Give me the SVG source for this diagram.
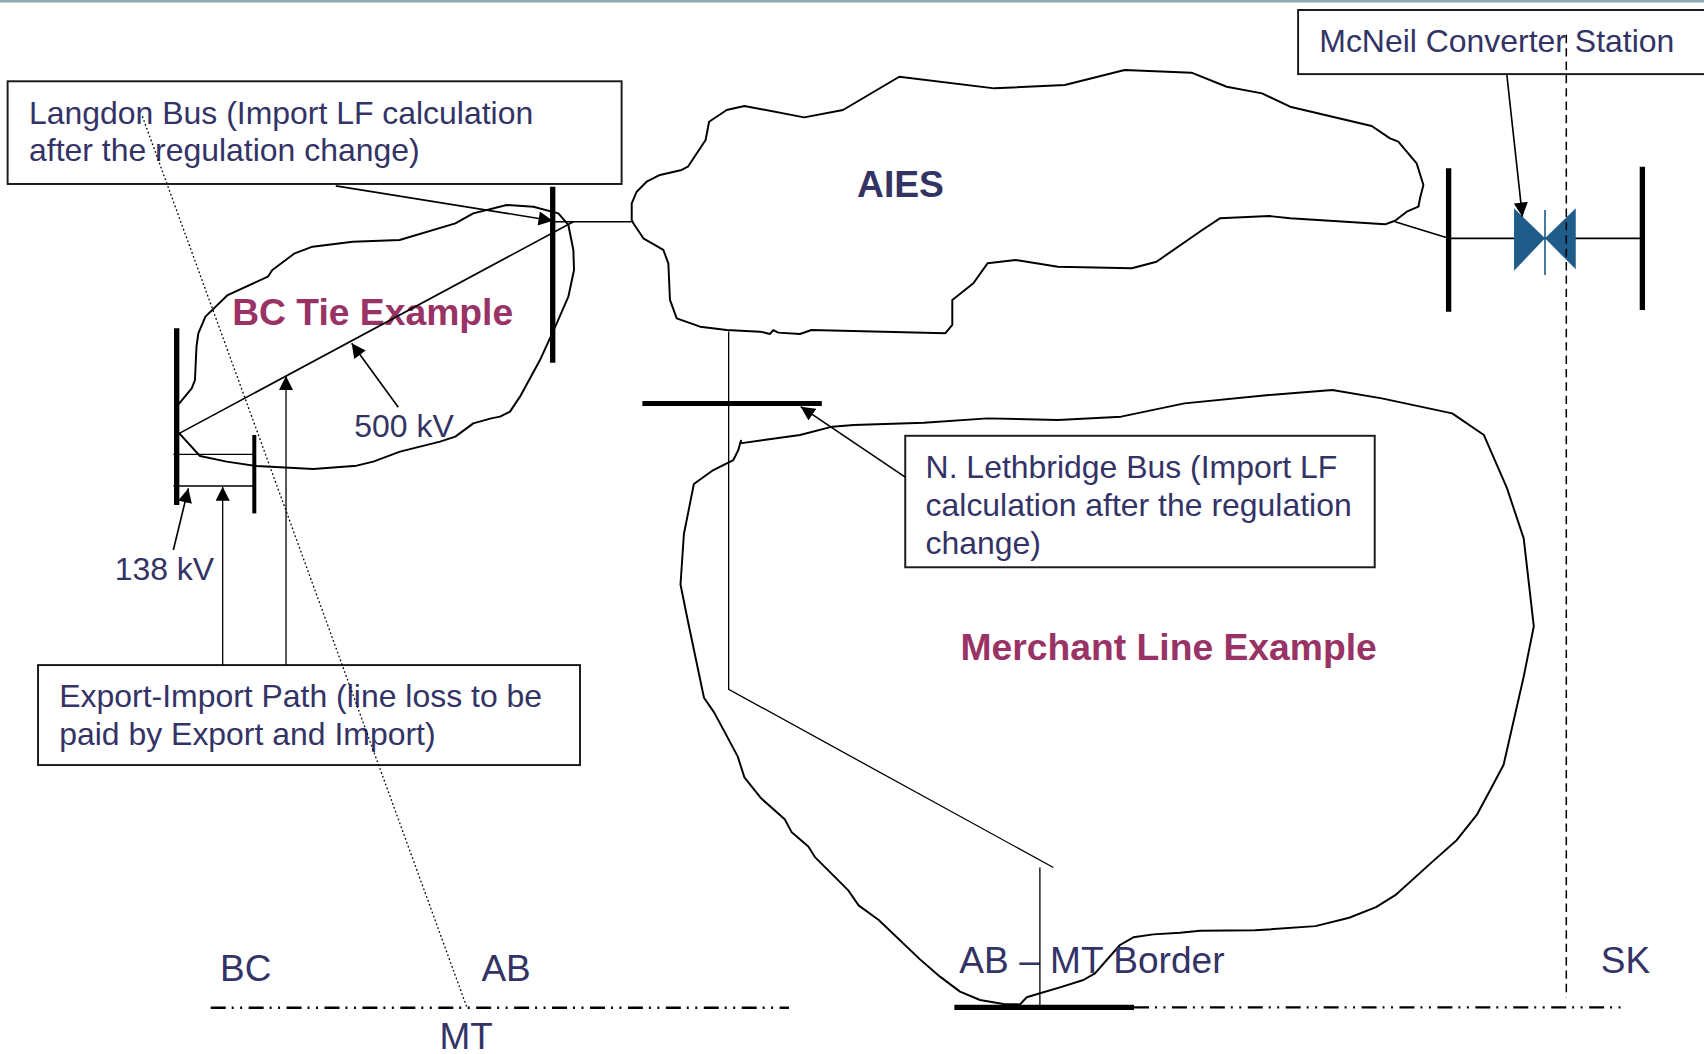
<svg xmlns="http://www.w3.org/2000/svg" width="1704" height="1054" viewBox="0 0 1704 1054">
<style>
.t{font-family:"Liberation Sans",Arial,sans-serif;font-size:29.4px;fill:#333366}
.b{font-family:"Liberation Sans",Arial,sans-serif;font-size:34.3px;font-weight:bold;fill:#993366}
.bn{font-family:"Liberation Sans",Arial,sans-serif;font-size:34.3px;font-weight:bold;fill:#333366}
.lg{font-family:"Liberation Sans",Arial,sans-serif;font-size:34px;fill:#333366}
.box{fill:#fff;stroke:#1a1a1a;stroke-width:1.8}
.cloud{fill:none;stroke:#000;stroke-width:1.8;stroke-linejoin:round;stroke-linecap:round}
.ln{fill:none;stroke:#000;stroke-width:1.5}
.thin{fill:none;stroke:#000;stroke-width:1.2}
.bus{stroke:#000;stroke-width:4.9}
.arr{fill:none;stroke:#000;stroke-width:1.5;marker-end:url(#ah)}
.dot{fill:none;stroke:#000;stroke-width:1.2;stroke-dasharray:1.6 2.2}
.dash{fill:none;stroke:#000;stroke-width:1.4;stroke-dasharray:7.7 4.6}
.border{fill:none;stroke:#000;stroke-width:2.2;stroke-dasharray:13.8 5.5 1.8 6 1.8 6}
.valve{fill:#1f5c8a}
</style>
<defs>
<marker id="ah" viewBox="0 0 14 14" refX="14" refY="7" markerWidth="13.5" markerHeight="13" orient="auto" markerUnits="userSpaceOnUse">
<path d="M0,0 L14,7 L0,14 z" fill="#000"/>
</marker>
</defs>
<rect x="0" y="0" width="1704" height="2.5" fill="#8eaab3"/>
<g transform="scale(1.08673)">
<g id="bc-tie">
<path class="cloud" d="M165,398.8 L184,419.6 L208.6,424.8 L236.2,428.8 L288.3,431.6 L328.2,428.5 L343.5,424.8 L368.1,415.6 L404.9,406.4 L419,401.8 L435.5,389.6 L452,385 L460.1,383.4 L469.3,378.8 L478.5,365 L496.9,331.3 L512.3,297.5 L523,273 L528.2,248.5 L527.6,230 L523,207 L513.8,196.3 L490.8,190.2 L466.3,188.6 L435.5,196.3 L419,205.5 L367.7,220.9 L324.6,222.4 L287.6,227 L271.2,233.1 L250.6,248.5 L246.5,254.6 L209.5,271.5 L189,291.4 L182.5,306.7 L180.8,319 L179.4,349.7 L176.4,357.3 L165,371.2 L162.3,374"/>
<text class="b" x="213.6" y="299">BC Tie Example</text>
<line class="bus" x1="508.6" y1="171.8" x2="508.6" y2="333.7"/>
<line class="bus" x1="162.6" y1="302.1" x2="162.6" y2="464.7"/>
<line class="bus" x1="234" y1="400.3" x2="234" y2="472.4" style="stroke-width:3.7"/>
<text class="t" x="326" y="401.8">500 kV</text>
<text class="t" x="105.5" y="533.5">138 kV</text>
</g>
<g id="aies">
<path class="cloud" d="M581.3,202.4 L581.3,187.1 L585.9,176.4 L595,167.2 L607.3,161 L627.3,156.4 L633,153.4 L649.3,128.8 L652.5,112 L668.7,101.2 L685,97.5 L740,108 L775.7,101.2 L827.5,70.6 L915,81.3 L979.8,78.2 L1034.9,64.4 L1096.4,66.9 L1128.8,79.8 L1161.3,85.9 L1187.1,98.2 L1262.2,115.9 L1279.1,127.3 L1286.7,130.4 L1303.6,150.3 L1309.8,170.2 L1306.7,182.5 L1305.2,190.2 L1294.5,194.8 L1283.7,203.1 L1274.5,206.4 L1187.1,200.9 L1167.9,198.8 L1122.5,200.9 L1106.3,211.7 L1064.2,240.8 L1041.5,246.9 L973.4,245.4 L934.6,239.3 L908.7,242.3 L895.7,260.7 L876.3,276 L876.3,299 L869.8,306.7 L746.7,303.7 L736.2,307.3 L716.2,306.1 L711.6,303.7 L708.6,307.3 L699.4,305.2 L668.7,303.7 L644.2,300.6 L622.7,292.9 L616.5,276 L615,242.3 L610.4,230 L592,219.3 L582.8,205.5 Z"/>
<text class="bn" x="788.6" y="181">AIES</text>
</g>
<g id="merchant-line">
<path class="cloud" d="M681.9,405.5 L681,408 L736.2,400.3 L765.8,392.6 L785.5,391.1 L850.2,389 L908.6,385 L973.4,386.5 L1031.6,383.4 L1089.9,371.2 L1167.7,363.5 L1226,358.9 L1271.5,366.6 L1336.3,380.4 L1365.5,400.3 L1386.7,449.2 L1402.1,495.4 L1411.4,576.3 L1402.1,622.6 L1383.6,703.7 L1371.3,726.9 L1358.9,749.9 L1340.4,773.1 L1318.7,792.4 L1284.7,823.2 L1266.2,834.8 L1241.5,844.5 L1210.5,852.2 L1154.9,856.1 L1104.3,856.4 L1085.9,858.3 L1061.3,859.8 L1042.9,862.5 L1030.6,869.6 L1018.4,883.4 L1007.6,895.7 L996.9,901.8 L975.4,908.6 L957,914 L944.8,917.7 L938.6,924.2 L923.3,923.9 L901.8,920.2 L883.4,912.5 L865,898.7 L846.6,882.8 L808.6,846.6 L790.1,833.1 L780.8,819.6 L765.4,804.1 L749.9,788.7 L743.8,779 L728.3,765.5 L722.1,753.9 L700.4,734.6 L685,715.3 L678.8,696 L666.4,672.8 L657.1,655.5 L647.8,642 L632.4,568.7 L626.2,537.9 L629.3,491.6 L638.5,445.3 L656.4,432.5 L674.8,423.3 L679.4,414.1 L681,408"/>
<text class="b" x="883.9" y="607.3">Merchant Line Example</text>
<line class="bus" x1="591.1" y1="371.2" x2="756.2" y2="371.2" style="stroke-width:4.6"/>
<line class="bus" x1="878.2" y1="927" x2="1043.5" y2="927"/>
</g>
<g id="mcneil">
<line class="bus" x1="1333" y1="154.9" x2="1333" y2="286.8"/>
<line class="bus" x1="1511.3" y1="153.4" x2="1511.3" y2="285.3"/>
<line class="ln" x1="1333" y1="219.3" x2="1511.3" y2="219.3"/>
<polygon class="valve" points="1393.2,191.7 1421.7,219.3 1393.2,249.1"/>
<polygon class="valve" points="1450,191.7 1421.7,219.3 1450,247.8"/>
<line x1="1421.7" y1="193.2" x2="1421.7" y2="253" stroke="#1f5c8a" stroke-width="1.5"/>
</g>
<g id="langdon-label">
<rect class="box" x="7" y="74.8" width="565" height="94.5"/>
<text class="t" x="26.7" y="114.4">Langdon Bus (Import LF calculation</text>
<text class="t" x="26.7" y="148.5">after the regulation change)</text>
</g>
<g id="mcneil-label">
<rect class="box" x="1194.5" y="9.2" width="390" height="59"/>
<text class="t" x="1214" y="47.5">McNeil Converter Station</text>
</g>
<g id="lethbridge-label">
<rect class="box" x="833" y="401" width="432" height="121"/>
<text class="t" x="851.7" y="439.5">N. Lethbridge Bus (Import LF</text>
<text class="t" x="851.7" y="474.5">calculation after the regulation</text>
<text class="t" x="851.7" y="509.5">change)</text>
</g>
<g id="export-import-label">
<rect class="box" x="35" y="612" width="498.7" height="92"/>
<text class="t" x="54.5" y="651">Export-Import Path (line loss to be</text>
<text class="t" x="54.5" y="686">paid by Export and Import)</text>
</g>
<g id="borders">
<path class="border" d="M193.9,927.3 L726,927.3"/>
<path class="border" d="M1043.5,927 L1492,927"/>
<path class="dash" d="M1441.3,32 L1441.3,918"/>
<text class="lg" x="202.5" y="903">BC</text>
<text class="lg" x="443" y="903">AB</text>
<text class="lg" x="404.5" y="965">MT</text>
<text class="lg" x="882.8" y="895" textLength="244" lengthAdjust="spacingAndGlyphs">AB – MT Border</text>
<text class="lg" x="1473" y="895">SK</text>
</g>
<g id="connectors">
<path class="arr" d="M309,171 L508.6,203.1"/>
<path class="ln" d="M165,398.8 L527.6,204"/>
<path class="ln" d="M508.6,204 L581.3,204"/>
<path class="arr" d="M366.5,374.8 L323.6,315.9"/>
<path class="arr" d="M159.5,506.1 L173.3,449.4"/>
<path class="arr" d="M204.9,612 L204.9,447.8" style="stroke-width:1.2"/>
<path class="arr" d="M263.2,612 L263.2,346" style="stroke-width:1.2"/>
<path class="thin" d="M159.5,418.1 L234,418.1 M159.5,447.2 L234,447.2"/>
<path class="thin" d="M670.5,305 L670.5,634.3 L969.3,798.3"/>
<path class="thin" d="M956.9,798.3 L956.9,927"/>
<path class="arr" d="M833,439 L736.8,374.2"/>
<path class="arr" d="M1386.5,68.1 L1400.9,199.4"/>
<path class="ln" d="M1283.7,204 L1333,219.3"/>
<path class="dot" d="M131,107 L429.4,926.4"/>
</g>
</g>
</svg>
